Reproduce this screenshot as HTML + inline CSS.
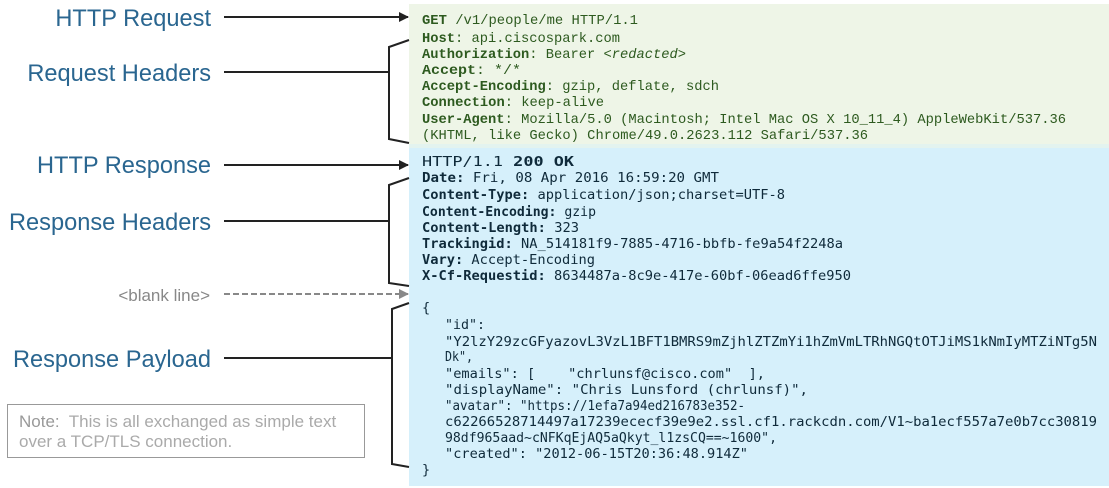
<!DOCTYPE html>
<html><head><meta charset="utf-8"><style>
html,body{margin:0;padding:0;background:#fff;width:1109px;height:488px;overflow:hidden}
svg{display:block}
text{white-space:pre}
.lbl{font-family:"Liberation Sans",sans-serif;font-size:23.6px;fill:#2a6690}
.rq{font-family:"Liberation Mono",monospace;font-size:14px;fill:#2d5a1f}
.rs{font-family:"DejaVu Sans Mono","Liberation Mono",monospace;font-size:13.5px;fill:#0f2a3a}
.b{font-weight:bold}
</style></head><body>
<svg width="1109" height="488" viewBox="0 0 1109 488" xmlns="http://www.w3.org/2000/svg" xml:space="preserve">
<defs>
<marker id="ah" markerWidth="10" markerHeight="10" refX="9" refY="5" orient="auto" markerUnits="userSpaceOnUse"><path d="M0,0 L10,5 L0,10 z" fill="#222"/></marker>
<marker id="ahg" markerWidth="10" markerHeight="10" refX="9" refY="5" orient="auto" markerUnits="userSpaceOnUse"><path d="M0,0 L10,5 L0,10 z" fill="#888"/></marker>
</defs>
<rect x="409" y="4" width="700" height="140" fill="#eef5e7"/>
<rect x="409" y="144" width="700" height="4" fill="#e3f3ef"/>
<rect x="409" y="148" width="700" height="338" fill="#d6f0fb"/>

<text class="lbl" x="211" y="26" text-anchor="end">HTTP Request</text>
<text class="lbl" x="211" y="81" text-anchor="end">Request Headers</text>
<text class="lbl" x="211" y="173" text-anchor="end">HTTP Response</text>
<text class="lbl" x="211" y="230" text-anchor="end">Response Headers</text>
<text x="210" y="301" text-anchor="end" font-family="Liberation Sans,sans-serif" font-size="17" fill="#888">&lt;blank line&gt;</text>
<text class="lbl" x="211" y="367" text-anchor="end">Response Payload</text>

<g stroke="#222" stroke-width="2" fill="none">
<line x1="224" y1="17" x2="408" y2="17" marker-end="url(#ah)"/>
<line x1="224" y1="165" x2="408" y2="165" marker-end="url(#ah)"/>
<line x1="224" y1="72" x2="389" y2="72"/>
<polyline points="409,40 389,47 389,139 409,143"/>
<line x1="224" y1="221" x2="389" y2="221"/>
<polyline points="409,178 389,185 389,283 409,286"/>
<line x1="224" y1="358" x2="392" y2="358"/>
<polyline points="409,303 392,309 392,464 409,467"/>
</g>
<line x1="224" y1="294" x2="408" y2="294" stroke="#888" stroke-width="2" stroke-dasharray="6,3" marker-end="url(#ahg)"/>

<rect x="7.5" y="404.5" width="357" height="53" fill="#fff" stroke="#999"/>
<text x="19" y="427" font-family="Liberation Sans,sans-serif" font-size="17" fill="#aaa"><tspan fill="#999">Note:</tspan>  This is all exchanged as simple text</text>
<text x="19" y="447" font-family="Liberation Sans,sans-serif" font-size="17" fill="#aaa">over a TCP/TLS connection.</text>

<text class="rq" x="422" y="24" font-size="16" textLength="216" lengthAdjust="spacingAndGlyphs"><tspan class="b">GET</tspan> /v1/people/me HTTP/1.1</text>
<text class="rq" x="422" y="42" textLength="198" lengthAdjust="spacingAndGlyphs"><tspan class="b">Host</tspan>: api.ciscospark.com</text>
<text class="rq" x="422" y="58" textLength="264" lengthAdjust="spacingAndGlyphs"><tspan class="b">Authorization</tspan>: Bearer <tspan font-style="italic">&lt;redacted&gt;</tspan></text>
<text class="rq" x="422" y="74" textLength="99" lengthAdjust="spacingAndGlyphs"><tspan class="b">Accept</tspan>: */*</text>
<text class="rq" x="422" y="90" textLength="297" lengthAdjust="spacingAndGlyphs"><tspan class="b">Accept-Encoding</tspan>: gzip, deflate, sdch</text>
<text class="rq" x="422" y="106" textLength="182" lengthAdjust="spacingAndGlyphs"><tspan class="b">Connection</tspan>: keep-alive</text>
<text class="rq" x="422" y="123" textLength="644" lengthAdjust="spacingAndGlyphs"><tspan class="b">User-Agent</tspan>: Mozilla/5.0 (Macintosh; Intel Mac OS X 10_11_4) AppleWebKit/537.36</text>
<text class="rq" x="422" y="139" textLength="446" lengthAdjust="spacingAndGlyphs">(KHTML, like Gecko) Chrome/49.0.2623.112 Safari/537.36</text>

<text class="rs" x="422" y="166" font-size="16" textLength="152" lengthAdjust="spacingAndGlyphs">HTTP/1.1 <tspan class="b">200 OK</tspan></text>
<text class="rs" x="422" y="182" textLength="297" lengthAdjust="spacingAndGlyphs"><tspan class="b">Date:</tspan> Fri, 08 Apr 2016 16:59:20 GMT</text>
<text class="rs" x="422" y="199" textLength="363" lengthAdjust="spacingAndGlyphs"><tspan class="b">Content-Type:</tspan> application/json;charset=UTF-8</text>
<text class="rs" x="422" y="216" textLength="174" lengthAdjust="spacingAndGlyphs"><tspan class="b">Content-Encoding:</tspan> gzip</text>
<text class="rs" x="422" y="232" textLength="157" lengthAdjust="spacingAndGlyphs"><tspan class="b">Content-Length:</tspan> 323</text>
<text class="rs" x="422" y="248" textLength="421" lengthAdjust="spacingAndGlyphs"><tspan class="b">Trackingid:</tspan> NA_514181f9-7885-4716-bbfb-fe9a54f2248a</text>
<text class="rs" x="422" y="264" textLength="173" lengthAdjust="spacingAndGlyphs"><tspan class="b">Vary:</tspan> Accept-Encoding</text>
<text class="rs" x="422" y="280" textLength="429" lengthAdjust="spacingAndGlyphs"><tspan class="b">X-Cf-Requestid:</tspan> 8634487a-8c9e-417e-60bf-06ead6ffe950</text>

<text class="rs" x="422" y="312">{</text>
<text class="rs" x="445" y="329" textLength="40" lengthAdjust="spacingAndGlyphs">"id":</text>
<text class="rs" x="445" y="346" textLength="652" lengthAdjust="spacingAndGlyphs">"Y2lzY29zcGFyazovL3VzL1BFT1BMRS9mZjhlZTZmYi1hZmVmLTRhNGQtOTJiMS1kNmIyMTZiNTg5N</text>
<text class="rs" x="445" y="361" textLength="28" lengthAdjust="spacingAndGlyphs">Dk",</text>
<text class="rs" x="445" y="378" textLength="320" lengthAdjust="spacingAndGlyphs">"emails": [    "chrlunsf@cisco.com"  ],</text>
<text class="rs" x="445" y="394" textLength="363" lengthAdjust="spacingAndGlyphs">"displayName": "Chris Lunsford (chrlunsf)",</text>
<text class="rs" x="445" y="410" textLength="300" lengthAdjust="spacingAndGlyphs">"avatar": "https://1efa7a94ed216783e352-</text>
<text class="rs" x="445" y="426" textLength="652" lengthAdjust="spacingAndGlyphs">c62266528714497a17239ececf39e9e2.ssl.cf1.rackcdn.com/V1~ba1ecf557a7e0b7cc30819</text>
<text class="rs" x="445" y="442" textLength="332" lengthAdjust="spacingAndGlyphs">98df965aad~cNFKqEjAQ5aQkyt_l1zsCQ==~1600",</text>
<text class="rs" x="445" y="458" textLength="303" lengthAdjust="spacingAndGlyphs">"created": "2012-06-15T20:36:48.914Z"</text>
<text class="rs" x="422" y="474">}</text>
</svg>
</body></html>
